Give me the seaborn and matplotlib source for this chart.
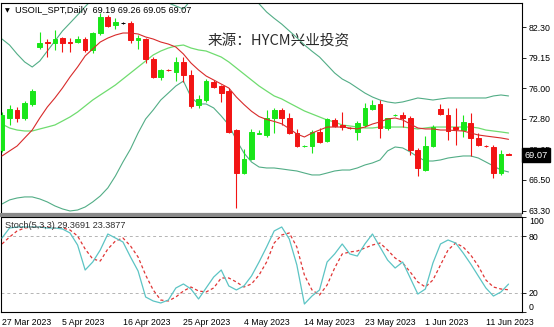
import numpy as np
import pandas as pd
import matplotlib
matplotlib.use("Agg")
import matplotlib.pyplot as plt
import matplotlib.transforms as mtransforms
from matplotlib.patches import Rectangle
import seaborn as sns

# ---------------- data ----------------
tick_labels = ["27 Mar 2023", "5 Apr 2023", "16 Apr 2023", "25 Apr 2023", "4 May 2023",
               "14 May 2023", "23 May 2023", "1 Jun 2023", "11 Jun 2023"]
tick_bars = [0, 8, 16, 24, 32, 40, 48, 56, 64]

opens = [69.60, 72.90, 73.73, 72.90, 74.35, 80.23, 80.75, 80.65, 81.16, 80.75,
         80.75, 81.06, 79.92, 81.68, 83.33, 82.51, 82.71, 82.71, 80.96, 81.06,
         79.00, 77.14, 77.90, 77.65, 78.69, 77.34, 74.25, 74.76, 76.62, 76.21,
         75.69, 71.66, 67.22, 68.67, 71.30, 71.15, 72.90, 73.73, 72.90, 71.35,
         69.98, 70.01, 71.46, 70.53, 72.70, 72.18, 71.90, 71.46, 72.18, 73.83,
         74.35, 71.87, 73.18, 73.21, 72.90, 69.60, 67.53, 70.01, 73.83, 73.21,
         71.97, 71.66, 72.39, 70.84, 70.05, 69.91, 67.22, 69.19]
highs = [73.52, 74.25, 74.04, 74.66, 75.90, 81.78, 81.06, 81.99, 81.27, 81.16,
         81.37, 81.27, 81.78, 83.75, 83.54, 83.23, 82.82, 82.92, 81.47, 81.16,
         79.20, 77.96, 77.96, 79.20, 79.20, 77.86, 75.28, 76.93, 76.83, 76.31,
         76.00, 71.77, 69.70, 71.77, 71.66, 73.73, 73.94, 73.94, 73.42, 71.77,
         70.12, 71.66, 71.87, 72.90, 72.90, 73.52, 71.97, 72.59, 74.45, 74.76,
         74.76, 72.95, 73.32, 73.52, 73.11, 69.81, 71.04, 72.18, 74.35, 73.94,
         73.94, 73.21, 73.42, 71.35, 70.12, 70.12, 69.60, 69.26]
lows = [69.39, 72.18, 72.49, 72.70, 74.14, 80.03, 79.20, 79.92, 79.72, 79.72,
        80.65, 79.72, 79.62, 81.47, 82.30, 82.09, 82.60, 80.65, 80.03, 78.58,
        77.03, 76.83, 77.76, 76.72, 76.62, 73.94, 73.94, 74.56, 76.00, 74.56,
        71.35, 63.61, 67.12, 68.57, 71.25, 70.94, 71.35, 72.18, 71.30, 69.91,
        69.91, 69.29, 70.32, 70.42, 71.97, 71.66, 71.77, 70.63, 71.97, 73.73,
        70.84, 71.66, 73.11, 71.97, 69.08, 66.91, 67.43, 69.91, 73.21, 70.63,
        70.12, 70.94, 68.98, 70.01, 69.91, 66.71, 67.02, 69.05]
closes = [73.21, 73.83, 72.90, 74.45, 75.69, 80.65, 80.60, 81.06, 80.65, 80.65,
          81.06, 79.92, 81.68, 83.33, 82.40, 82.82, 82.71, 80.96, 81.16, 79.00,
          77.14, 77.86, 77.82, 78.69, 77.34, 74.14, 74.87, 76.72, 76.10, 75.48,
          71.46, 67.22, 68.67, 71.46, 71.35, 72.90, 73.73, 72.90, 71.35, 70.01,
          70.05, 71.46, 70.42, 72.80, 72.08, 71.97, 71.84, 72.39, 73.94, 74.25,
          71.87, 72.90, 73.24, 72.90, 69.60, 67.74, 70.01, 71.97, 73.32, 71.56,
          71.77, 72.49, 70.84, 70.12, 69.98, 67.22, 69.19, 69.07]

ma_red = [68.98, 69.50, 70.01, 70.84, 71.66, 72.90, 74.04, 74.97, 76.00, 77.14,
          78.17, 79.31, 80.03, 80.75, 81.16, 81.47, 81.68, 81.68, 81.58, 81.27,
          81.06, 80.75, 80.54, 80.23, 79.51, 78.58, 77.86, 77.24, 76.83, 76.41,
          76.00, 75.07, 74.30, 73.60, 73.05, 72.75, 72.55, 72.30, 71.80, 71.25,
          70.94, 71.35, 71.66, 71.97, 71.97, 71.97, 71.87, 71.77, 71.97, 72.28,
          72.50, 72.80, 72.90, 72.70, 72.28, 71.87, 71.77, 71.77, 71.66, 71.66,
          71.60, 71.56, 71.35, 71.15, 71.04, 70.94, 70.84, 70.70]
bb_mid = [72.28, 71.87, 71.66, 71.56, 71.56, 71.77, 71.97, 72.18, 72.59, 73.01,
          73.52, 74.14, 74.76, 75.28, 75.79, 76.31, 76.93, 77.55, 78.17, 78.79,
          79.41, 79.82, 80.13, 80.34, 80.44, 80.13, 79.93, 79.82, 79.51, 79.20,
          78.69, 78.07, 77.45, 76.83, 76.21, 75.69, 75.18, 74.87, 74.45, 74.04,
          73.63, 73.32, 73.01, 72.70, 72.49, 72.18, 72.08, 71.97, 71.87, 71.87,
          71.97, 71.97, 71.97, 71.97, 71.87, 71.77, 71.87, 71.97, 71.97, 71.97,
          71.97, 71.97, 71.97, 71.87, 71.66, 71.56, 71.46, 71.35]
bb_up = [81.06, 80.44, 79.51, 78.69, 78.17, 78.79, 79.82, 80.85, 81.89, 82.71,
         83.54, 84.40, 85.20, 85.70, 85.90, 85.70, 85.50, 85.40, 85.00, 84.80,
         85.00, 84.88, 84.78, 84.47, 84.16, 85.10, 85.40, 85.30, 85.10, 85.30,
         85.20, 85.50, 85.60, 85.30, 84.70, 83.85, 83.20, 82.60, 81.90, 81.20,
         80.45, 79.80, 79.20, 78.38, 77.55, 76.93, 76.52, 76.00, 75.48, 75.07,
         74.76, 74.56, 74.45, 74.56, 74.76, 74.97, 74.87, 74.76, 74.87, 74.97,
         74.97, 74.97, 74.97, 74.97, 74.97, 75.18, 75.28, 75.18]
bb_lo = [64.02, 64.44, 64.64, 64.75, 64.75, 64.54, 64.23, 63.82, 63.51, 63.30,
         63.40, 63.71, 64.23, 64.85, 65.68, 66.91, 68.36, 69.70, 71.35, 72.80,
         73.73, 74.76, 75.48, 76.21, 76.72, 75.07, 74.35, 74.35, 73.94, 73.11,
         72.18, 70.63, 69.29, 68.36, 67.84, 67.74, 67.74, 67.64, 67.53, 67.43,
         67.22, 67.02, 67.02, 67.22, 67.43, 67.53, 67.53, 67.74, 68.05, 68.26,
         68.57, 69.50, 69.91, 69.81, 69.39, 68.88, 68.46, 68.46, 68.57, 68.77,
         68.88, 68.98, 68.98, 68.77, 68.36, 67.95, 67.53, 67.33]

stoch_k = [77.9, 88.4, 89.5, 89.5, 89.5, 89.5, 88.4, 88.4, 87.4, 83.2,
           70.5, 44.2, 52.6, 65.3, 82.1, 77.9, 73.7, 57.9, 43.2, 15.8,
           11.6, 9.5, 12.6, 25.3, 29.5, 24.2, 13.7, 25.3, 36.8, 44.2,
           27.4, 23.2, 27.4, 37.9, 52.6, 68.4, 85.3, 89.5, 76.8, 49.5,
           8.4, 16.8, 23.2, 52.6, 61.1, 71.6, 61.1, 58.9, 71.6, 82.1,
           68.4, 54.7, 46.3, 52.6, 35.8, 18.9, 24.2, 51.6, 71.6, 75.8,
           72.6, 62.1, 50.5, 37.9, 25.3, 16.8, 21.1, 29.37]
stoch_d = [71.6, 78.9, 85.3, 88.4, 89.5, 89.5, 89.5, 88.4, 88.4, 86.3,
           80.0, 66.3, 55.8, 53.7, 66.3, 74.7, 77.9, 69.5, 57.9, 38.9,
           23.2, 12.6, 11.6, 15.8, 22.1, 26.3, 22.1, 21.1, 25.3, 35.8,
           35.8, 31.6, 26.3, 29.5, 38.9, 52.6, 72.6, 81.1, 83.2, 68.4,
           38.9, 23.2, 17.9, 28.4, 46.3, 61.1, 63.2, 64.2, 67.4, 70.5,
           72.6, 65.3, 56.8, 51.6, 42.1, 31.6, 26.3, 33.7, 49.5, 65.3,
           72.6, 68.4, 60.0, 48.4, 33.7, 26.3, 24.2, 23.39]

price_ticks = [82.30, 79.15, 76.00, 72.80, 69.65, 66.50, 63.30]
stoch_ticks = [100, 80, 20, 0]
stoch_levels = [80, 20]

header = "USOIL_SPT,Daily  69.19 69.26 69.05 69.07"
stoch_title = "Stoch(5,3,3) 29.3691 23.3877"
watermark = "来源：HYCM兴业投资"

# ---------------- style ----------------
sns.set_style("white")
plt.rcParams["font.family"] = ["Liberation Sans", "DejaVu Sans"]
FS = 6.3
BULL, BEAR, DOJI = "#19e619", "#f21414", "#000000"

df = pd.DataFrame({"bar": np.arange(len(closes)), "open": opens, "high": highs,
                   "low": lows, "close": closes, "ma": ma_red, "mid": bb_mid,
                   "up": bb_up, "lo": bb_lo, "k": stoch_k, "d": stoch_d})

W, H = 554, 327
fig = plt.figure(figsize=(W / 100, H / 100), dpi=100)
fig.patch.set_facecolor("white")
ax1 = fig.add_axes([1 / W, 1 - 213 / H, 521 / W, 210 / H])
ax2 = fig.add_axes([1 / W, 1 - 312 / H, 521 / W, 95 / H])

xlim = (-0.13, 68.78)

# ---------------- main panel ----------------
cols = [BULL if c > o else (BEAR if c < o else DOJI) for o, c in zip(df.open, df.close)]
ax1.vlines(df.bar, df.low, df.high, colors=cols, linewidth=0.8, zorder=3)
body_lo = np.minimum(df.open, df.close)
body_h = np.abs(df.close - df.open)
ax1.bar(df.bar, body_h, bottom=body_lo, width=0.62, color=cols, edgecolor=cols,
        linewidth=0.7, zorder=4)

sns.lineplot(data=df, x="bar", y="up", ax=ax1, color="#52ad86", linewidth=0.8, zorder=2)
sns.lineplot(data=df, x="bar", y="lo", ax=ax1, color="#52ad86", linewidth=0.8, zorder=2)
sns.lineplot(data=df, x="bar", y="mid", ax=ax1, color="#6fdc6f", linewidth=0.9, zorder=2)
sns.lineplot(data=df, x="bar", y="ma", ax=ax1, color="#d82a2a", linewidth=0.8, zorder=5)

ax1.set_xlim(*xlim)
ax1.set_ylim(63.09, 84.78)
ax1.set_xlabel("")
ax1.set_ylabel("")
ax1.set_xticks([])
ax1.yaxis.tick_right()
ax1.set_yticks(price_ticks)
ax1.set_yticklabels([f"{v:.2f}" for v in price_ticks])
ax1.tick_params(axis="y", direction="out", length=3, width=0.6, pad=2,
                labelsize=FS, colors="black")

# current price box
trans = mtransforms.blended_transform_factory(ax1.transAxes, ax1.transData)
ax1.text(1.005, closes[-1], f"{closes[-1]:.2f}", transform=trans, ha="left", va="center",
         fontsize=FS + 0.4, color="white", zorder=10, clip_on=False,
         bbox=dict(boxstyle="square,pad=0.28", fc="black", ec="black"))

# ---------------- stochastic panel ----------------
for lv in stoch_levels:
    ax2.axhline(lv, color="#b4b4b4", linewidth=0.7, linestyle=(0, (3, 3)), zorder=1)
sns.lineplot(data=df, x="bar", y="d", ax=ax2, color="#e03535", linewidth=0.9, zorder=2)
ax2.lines[-1].set_linestyle((0, (2.5, 2)))
sns.lineplot(data=df, x="bar", y="k", ax=ax2, color="#5cc4c4", linewidth=0.9, zorder=3)

ax2.set_xlim(*xlim)
ax2.set_ylim(0, 100)
ax2.set_xlabel("")
ax2.set_ylabel("")
ax2.yaxis.tick_right()
ax2.set_yticks(stoch_ticks)
ax2.set_yticklabels([str(v) for v in stoch_ticks])
for lab, v in zip(ax2.get_yticklabels(), stoch_ticks):
    if v == 100:
        lab.set_va("top")
    elif v == 0:
        lab.set_va("bottom")
ax2.tick_params(axis="y", direction="out", length=3, width=0.6, pad=2,
                labelsize=FS, colors="black")
ax2.set_xticks(tick_bars)
ax2.set_xticklabels(tick_labels, ha="left")
ax2.tick_params(axis="x", direction="out", length=3, width=0.6, pad=1.5,
                labelsize=FS, colors="black")

for ax in (ax1, ax2):
    for s in ax.spines.values():
        s.set_visible(True)
        s.set_color("black")
        s.set_linewidth(0.8)

# separator bar between the two windows
fig.add_artist(Rectangle((0, 1 - 216.5 / H), 522 / W, 3.5 / H, transform=fig.transFigure,
                         facecolor="#8a8a8a", edgecolor="none", zorder=20))

# ---------------- texts ----------------
fig.text(5 / W, 1 - 10.5 / H, "\u25BC", fontsize=4.5, color="black", va="center",
         family=["DejaVu Sans"])
fig.text(15 / W, 1 - 10.5 / H, header, fontsize=FS + 0.3, color="black", va="center")
fig.text(208 / W, 1 - 41 / H, watermark, fontsize=10.5, color="#2a2a2a", va="center",
         family=["Noto Sans CJK SC", "DejaVu Sans"])
fig.text(5 / W, 1 - 225 / H, stoch_title, fontsize=FS + 0.3, color="#303030", va="center")

fig.savefig("out.png", dpi=100)
